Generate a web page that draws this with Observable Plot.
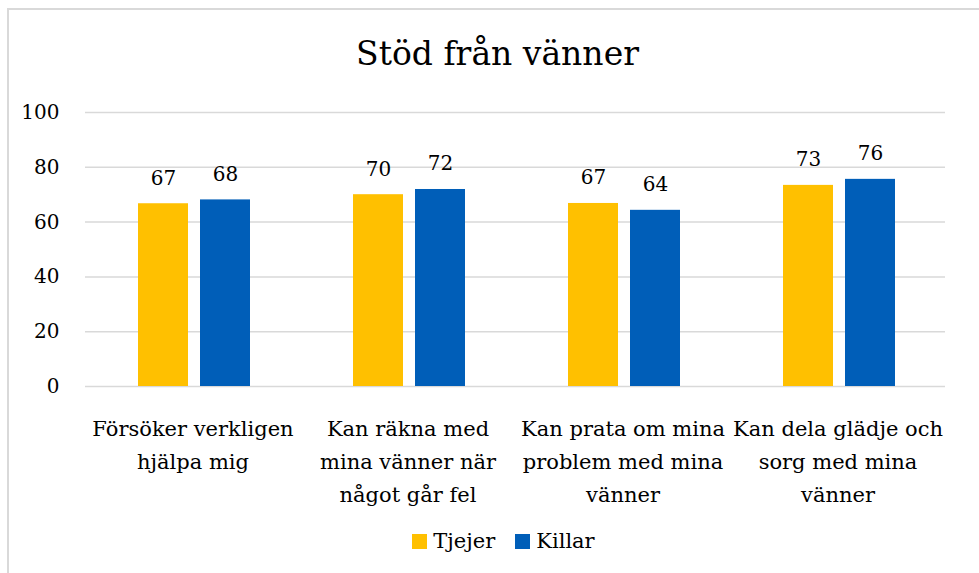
<!DOCTYPE html>
<html>
<head>
<meta charset="utf-8">
<script src="https://cdn.jsdelivr.net/npm/d3@7"></script>
<script src="https://cdn.jsdelivr.net/npm/@observablehq/plot@0.6"></script>
<style>
  html, body { margin: 0; padding: 0; background: #fff; }
  body { width: 979px; height: 573px; overflow: hidden; position: relative; font-family: "DejaVu Serif", serif; }
  #frame { position: absolute; left: 7px; top: 8px; width: 990px; height: 600px; border-left: 2px solid #d9d9d9; border-top: 2px solid #d9d9d9; box-sizing: border-box; }
  #title { position: absolute; left: 0; top: 0; width: 979px; height: 95px; text-align: center; font-size: 33px; line-height: 108px; color: #000; padding-left: 16px; box-sizing: border-box; }
  #chart { position: absolute; left: 0; top: 95px; }
  #legend { position: absolute; top: 529px; left: 0; width: 979px; display: flex; justify-content: center; gap: 20px; font-size: 21px; color: #000; padding-left: 28px; box-sizing: border-box; }
  .item { display: flex; align-items: center; gap: 6px; }
  .sw { width: 15px; height: 15px; display: inline-block; }
</style>
</head>
<body>
<div id="frame"></div>
<div id="title">Stöd från vänner</div>
<div id="chart"></div>
<div id="legend"></div>
<script>
const categories = [
  "Försöker verkligen\nhjälpa mig",
  "Kan räkna med\nmina vänner när\nnågot går fel",
  "Kan prata om mina\nproblem med mina\nvänner",
  "Kan dela glädje och\nsorg med mina\nvänner"
];
const series = ["Tjejer", "Killar"];
const tjejer = [66.7, 70.0, 66.8, 73.4];
const killar = [68.1, 71.9, 64.3, 75.6];
const yTicks = [0, 20, 40, 60, 80, 100];
const colors = ["#FFC000", "#005EB8"];

const dataT = categories.map((c, i) => ({category: c, value: tjejer[i]}));
const dataK = categories.map((c, i) => ({category: c, value: killar[i]}));

const font = "DejaVu Serif";
const chart = Plot.plot({
  width: 979,
  height: 420,
  marginLeft: 85,
  marginRight: 34,
  marginTop: 17,
  marginBottom: 129,
  style: {fontFamily: font, fontSize: "20px", color: "#000", background: "transparent"},
  x: {domain: categories, padding: 0, label: null},
  y: {domain: [0, 100], ticks: yTicks, label: null},
  marks: [
    Plot.gridY(yTicks, {stroke: "#d9d9d9", strokeOpacity: 1, strokeWidth: 1.5}),
    Plot.barY(dataT, {x: "category", y: "value", fill: colors[0], insetLeft: 53, insetRight: 112}),
    Plot.barY(dataK, {x: "category", y: "value", fill: colors[1], insetLeft: 115, insetRight: 50}),
    Plot.text(dataT, {x: "category", y: "value", text: d => d3.format(".0f")(d.value), dx: -29.5, dy: -19, lineAnchor: "bottom", fontSize: 20}),
    Plot.text(dataK, {x: "category", y: "value", text: d => d3.format(".0f")(d.value), dx: 32.5, dy: -19, lineAnchor: "bottom", fontSize: 20}),
    Plot.axisY(yTicks, {tickSize: 0, tickPadding: 26, fontSize: 20, label: null}),
    Plot.axisX({tickSize: 0, tickPadding: 26, fontSize: 21, lineHeight: 1.57, label: null})
  ]
});
document.getElementById("chart").appendChild(chart);

const legend = document.getElementById("legend");
series.forEach((s, i) => {
  const it = document.createElement("div");
  it.className = "item";
  it.innerHTML = `<span class="sw" style="background:${colors[i]}"></span><span>${s}</span>`;
  legend.appendChild(it);
});
</script>
</body>
</html>
